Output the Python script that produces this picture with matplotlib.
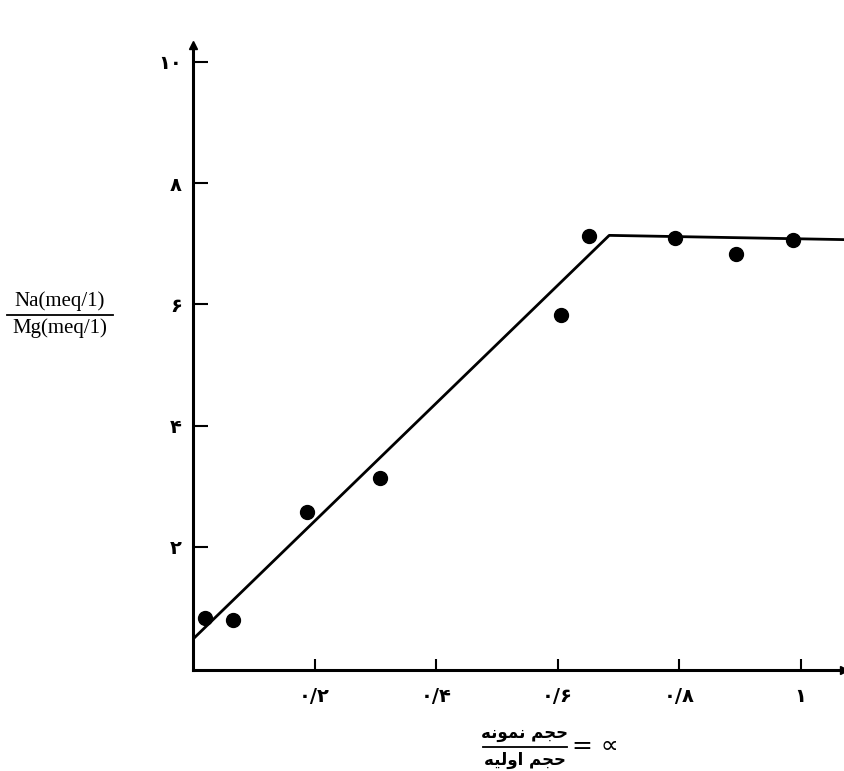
import matplotlib.pyplot as plt

plt.rcParams['font.family'] = ['Liberation Serif', 'DejaVu Sans']

# measured points (volume fraction, Na/Mg ratio)
x_pts = [0.020, 0.066, 0.187, 0.307, 0.605, 0.651, 0.794, 0.894, 0.988]
y_pts = [0.83, 0.79, 2.57, 3.13, 5.83, 7.13, 7.09, 6.84, 7.07]

# fitted broken line
x_fit = [0.0, 0.685, 1.071]
y_fit = [0.48, 7.14, 7.07]

x_ticks = [0.2, 0.4, 0.6, 0.8, 1.0]
x_labels = ['۰/۲', '۰/۴', '۰/۶', '۰/۸', '۱']
y_ticks = [2, 4, 6, 8, 10]
y_labels = ['۲', '۴', '۶', '۸', '۱۰']

fig = plt.figure(figsize=(8.44, 7.71), dpi=100)
ax = fig.add_axes([0.2287, 0.131, 0.771, 0.8106])

ax.plot(x_fit, y_fit, color='black', lw=2)
ax.plot(x_pts, y_pts, 'o', color='black', ms=10)

ax.set_xlim(0, 1.071)
ax.set_ylim(-0.03, 10.28)

for s in ['top', 'right']:
    ax.spines[s].set_visible(False)
for s in ['left', 'bottom']:
    ax.spines[s].set_linewidth(2.2)

# arrow heads on the axes
ax.plot(1, 0, '>k', ms=6, transform=ax.transAxes, clip_on=False)
ax.plot(0, 1, '^k', ms=6, transform=ax.transAxes, clip_on=False)

ax.set_xticks(x_ticks)
ax.set_xticklabels(x_labels, fontsize=14, family=['DejaVu Sans'], weight='bold')
ax.set_yticks(y_ticks)
ax.set_yticklabels(y_labels, fontsize=14, family=['DejaVu Sans'], weight='bold')
ax.tick_params(axis='x', direction='in', length=8, width=1.5, pad=12)
ax.tick_params(axis='y', direction='in', length=11, width=1.5, pad=8)

# y label as a fraction
fig.text(0.071, 0.597, 'Na(meq/1)', fontsize=15, ha='center', va='bottom')
fig.add_artist(plt.Line2D([0.008, 0.134], [0.592, 0.592], color='black', lw=1.3))
fig.text(0.071, 0.587, 'Mg(meq/1)', fontsize=15, ha='center', va='top')

# x label as a fraction (Persian, pre-shaped presentation forms)
top_word = '\ufeea\ufee7\ufeee\ufee4\ufee7 \ufee2\ufea0\ufea3'   # حجم نمونه
bot_word = '\ufeea\ufef4\ufedf\ufeed\ufe8d \ufee2\ufea0\ufea3'   # حجم اولیه
fig.text(0.622, 0.037, top_word, fontsize=12, ha='center', va='bottom',
         family=['DejaVu Sans'], weight='bold')
fig.add_artist(plt.Line2D([0.572, 0.672], [0.031, 0.031], color='black', lw=1.3))
fig.text(0.622, 0.026, bot_word, fontsize=12, ha='center', va='top',
         family=['DejaVu Sans'], weight='bold')
fig.text(0.678, 0.033, '= ∝', fontsize=18, ha='left', va='center',
         family=['DejaVu Sans'])

fig.savefig('out.png', dpi=100)
